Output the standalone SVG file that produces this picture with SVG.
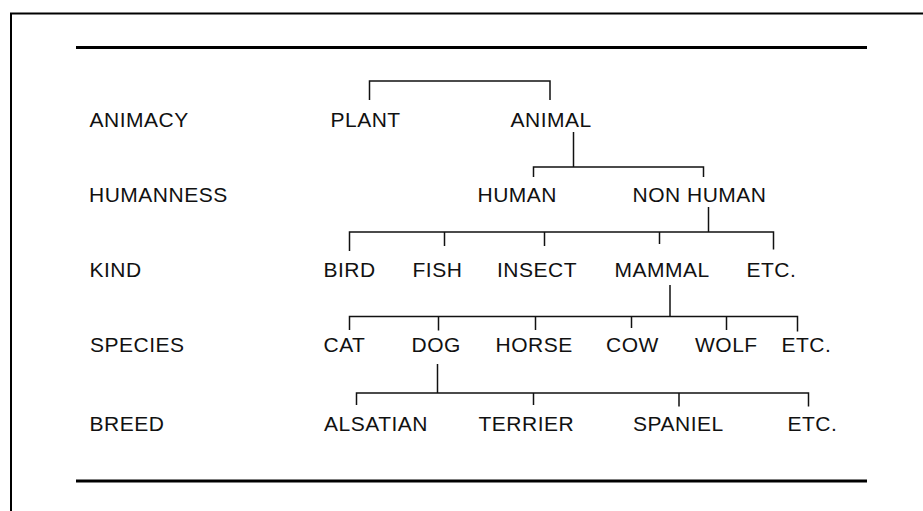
<svg xmlns="http://www.w3.org/2000/svg" width="923" height="511" viewBox="0 0 923 511">
<style>
  text { font-family: "Liberation Sans", Arial, sans-serif; font-size: 21px; letter-spacing: 0.5px; fill: #111; }
  .conn { fill: none; stroke: #111; stroke-width: 1.5; }
  .rule { stroke: #000; stroke-width: 3; }
</style>
<rect x="0" y="0" width="923" height="511" fill="#fff"/>
<rect x="11" y="13.5" width="1000" height="600" fill="none" stroke="#000" stroke-width="2"/>
<line class="rule" x1="76" y1="47.5" x2="867" y2="47.5"/>
<line class="rule" x1="76" y1="481" x2="867" y2="481"/>

<g id="levels">
  <text x="89.5" y="127">ANIMACY</text>
  <text x="89" y="201.5">HUMANNESS</text>
  <text x="89.5" y="277">KIND</text>
  <text x="90" y="352">SPECIES</text>
  <text x="89.5" y="430.5">BREED</text>
</g>

<g id="connectors">
  <path class="conn" d="M369.5,100 V81 H550 V100"/>
  <path class="conn" d="M573.5,132 V167"/>
  <path class="conn" d="M533.5,177 V167 H703.5 V177"/>
  <path class="conn" d="M708.5,207 V232"/>
  <path class="conn" d="M349.5,251 V232 H773.5 V249.5 M444.5,232 V246 M544.5,232 V246 M659.5,232 V244"/>
  <path class="conn" d="M670,285 V316.5"/>
  <path class="conn" d="M349.5,330 V316.5 H797.5 V331.5 M438.5,316.5 V330.5 M535.5,316.5 V330 M631.5,316.5 V328 M726.5,316.5 V330"/>
  <path class="conn" d="M437.5,364 V393"/>
  <path class="conn" d="M356.5,405 V393 H808.5 V406.5 M533.5,393 V405 M679,393 V406.5"/>
</g>

<g id="plant"><text x="330.5" y="127">PLANT</text></g>
<g id="animal"><text x="510.5" y="127">ANIMAL</text></g>
<g id="human"><text x="477.5" y="201.5">HUMAN</text></g>
<g id="nonhuman"><text x="632.5" y="201.5">NON HUMAN</text></g>
<g id="bird"><text x="323.5" y="277">BIRD</text></g>
<g id="fish"><text x="412.5" y="277">FISH</text></g>
<g id="insect"><text x="497" y="277">INSECT</text></g>
<g id="mammal"><text x="614.5" y="277">MAMMAL</text></g>
<g id="kind-etc"><text x="746.5" y="277">ETC.</text></g>
<g id="cat"><text x="323.5" y="352">CAT</text></g>
<g id="dog"><text x="411.5" y="352">DOG</text></g>
<g id="horse"><text x="495.5" y="352">HORSE</text></g>
<g id="cow"><text x="606" y="352">COW</text></g>
<g id="wolf"><text x="695" y="352">WOLF</text></g>
<g id="species-etc"><text x="781.5" y="352">ETC.</text></g>
<g id="alsatian"><text x="324" y="430.5">ALSATIAN</text></g>
<g id="terrier"><text x="478.5" y="430.5">TERRIER</text></g>
<g id="spaniel"><text x="633" y="430.5">SPANIEL</text></g>
<g id="breed-etc"><text x="787.5" y="430.5">ETC.</text></g>
</svg>
